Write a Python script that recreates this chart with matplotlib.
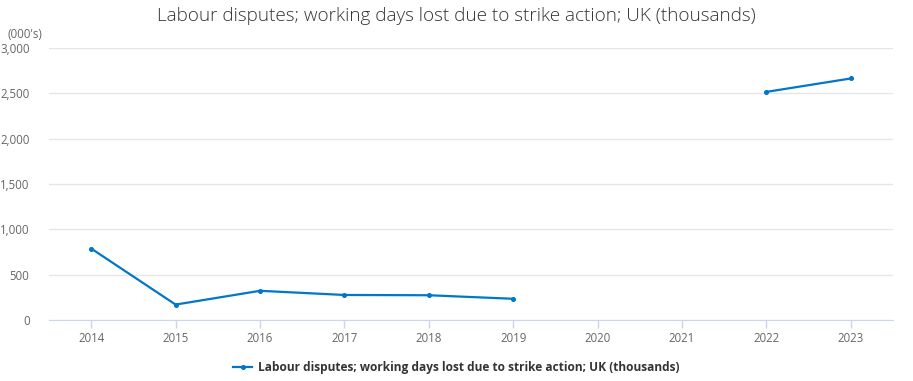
import matplotlib
matplotlib.use("Agg")
import matplotlib.pyplot as plt
import numpy as np

years = ["2014", "2015", "2016", "2017", "2018", "2019", "2020", "2021", "2022", "2023"]
days_lost = [788, 170, 322, 276, 273, 234, np.nan, np.nan, 2516, 2664]
series_name = "Labour disputes; working days lost due to strike action; UK (thousands)"
title = "Labour disputes; working days lost due to strike action; UK (thousands)"
yticks = [0, 500, 1000, 1500, 2000, 2500, 3000]

plt.rcParams['font.family'] = ['Open Sans', 'DejaVu Sans']

fig = plt.figure(figsize=(9.13, 3.81), dpi=100)
ax = fig.add_axes([49/913, 1 - 320/381, (893 - 49)/913, (320 - 48)/381])

x = np.arange(len(years))
color = "#0077c8"
ax.plot(x, days_lost, color=color, lw=1.6, marker="o", ms=2.6, label=series_name)

ax.set_xlim(-0.5, len(years) - 0.5)
ax.set_ylim(0, 3000)
ax.set_xticks(x)
ax.set_xticklabels(years)
ax.set_yticks(yticks)
ax.set_yticklabels([f"{v:,}" for v in yticks])

ax.grid(axis="y", color="#e6e6e6", lw=1)
ax.set_axisbelow(True)
for s in ["top", "right", "left"]:
    ax.spines[s].set_visible(False)
ax.spines["bottom"].set_color("#ccd6eb")
ax.tick_params(axis="x", colors="#ccd6eb", length=6, width=1, labelcolor="#666666", labelsize=8.3, pad=3)
ax.tick_params(axis="y", length=0, labelcolor="#666666", labelsize=8.3, pad=14)

fig.text(0.5, 1 - 16/381, title, ha="center", va="center", fontsize=13.6, color="#333333",
         fontweight="light")
fig.text(8/913, 1 - 34/381, "(000's)", ha="left", va="center", fontsize=8.3, color="#666666")

leg = fig.legend(loc="center", bbox_to_anchor=(0.5, 1 - 368/381), frameon=False,
                 fontsize=8.6, handlelength=1.6, handletextpad=0.5)
for t in leg.get_texts():
    t.set_fontweight("bold")
    t.set_color("#333333")

fig.savefig("out.png", dpi=100)
